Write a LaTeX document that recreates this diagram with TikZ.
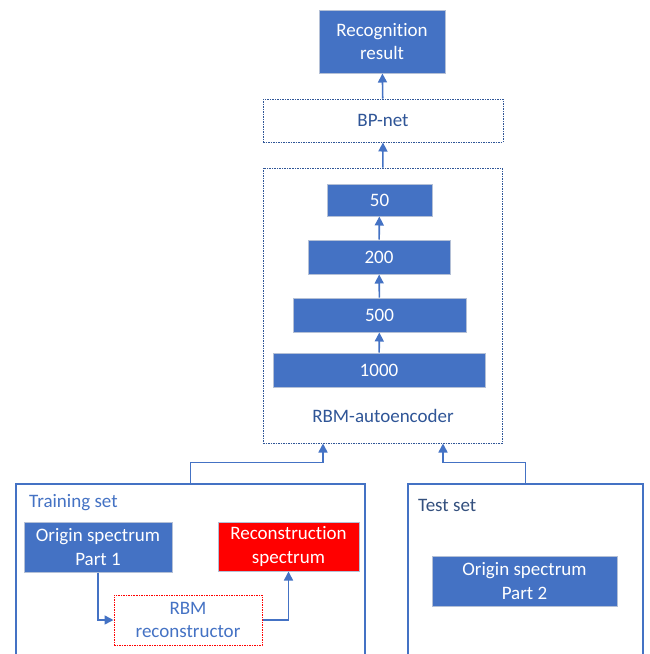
\documentclass[tikz,border=0pt]{standalone}
\usepackage{fontspec}
\setmainfont{Carlito}[Ligatures=NoCommon]
\usetikzlibrary{positioning, arrows.meta}

\definecolor{accblue}{HTML}{4472C4}
\definecolor{darkblue}{HTML}{2F5597}
\definecolor{boxedge}{HTML}{B4C0D6}
\definecolor{slateblue}{HTML}{34507E}

\tikzset{
  layer/.style={draw=boxedge, fill=accblue, text=white, line width=1pt,
    inner sep=0pt, align=center},
  redlayer/.style={layer, fill=red},
  frame/.style={draw=darkblue, dash pattern=on 1.5pt off 1pt, line width=1pt,
    inner sep=0pt, align=center, text=darkblue},
  redframe/.style={frame, draw=red, text=accblue},
  setbox/.style={draw=accblue, line width=1.3pt, inner sep=0pt},
  arr/.style={draw=accblue, line width=1.6pt, -{Triangle[length=9pt,width=9pt]}},
}

\begin{document}
\begin{tikzpicture}[x=1pt, y=-1pt, font=\fontsize{19}{23.5}\selectfont]

  \clip (0,0) rectangle (649,654);
  \fill[white] (0,0) rectangle (649,654);

  % output side
  \node[layer, minimum width=126pt, minimum height=63pt] (result) at (382,41.5)
    {Recognition\\result};
  \node[frame, minimum width=240pt, minimum height=43pt] (bpnet) at (383,120.5) {BP-net};

  % autoencoder stack
  \node[frame, minimum width=239pt, minimum height=275pt] (enc) at (382.5,305.5) {};
  \node[layer, minimum width=105pt, minimum height=32pt] (l50) at (379.5,200) {50};
  \node[layer, minimum width=142pt, minimum height=34pt] (l200) at (379,257) {200};
  \node[layer, minimum width=173pt, minimum height=34pt] (l500) at (379.5,315) {500};
  \node[layer, minimum width=212pt, minimum height=34pt] (l1000) at (379,370) {1000};
  \node[text=darkblue] (enclbl) at (383,416) {RBM-autoencoder};

  % training and test sets
  \node[setbox, minimum width=349pt, minimum height=196pt] (train) at (190.5,582) {};
  \node[setbox, minimum width=235pt, minimum height=196pt] (test) at (525.5,582) {};
  \node[text=accblue, anchor=west, inner sep=0pt] (trainlbl) at (29,503) {Training set};
  \node[text=slateblue, anchor=west, inner sep=0pt] (testlbl) at (418,505) {Test set};

  \node[layer, minimum width=148pt, minimum height=50pt] (orig1) at (98,547)
    {Origin spectrum\\Part 1};
  \node[redlayer, minimum width=141pt, minimum height=49pt] (recon) at (288.5,546.5)
    {Reconstruction\\spectrum};
  \node[redframe, minimum width=148pt, minimum height=50pt] (rbm) at (188,620)
    {RBM\\reconstructor};
  \node[layer, minimum width=185pt, minimum height=50pt] (orig2) at (524.5,581)
    {Origin spectrum\\Part 2};

  % connectors
  \draw[arr] (bpnet) -- (result);
  \draw[arr] (enc) -- (bpnet);
  \draw[arr] (l1000) -- (l500);
  \draw[arr] (l500) -- (l200);
  \draw[arr] (l200) -- (l50);
  \draw[arr] (train.north) -- ++(0,-21) -| ([xshift=-59.5pt]enc.south);
  \draw[arr] (test.north) -- ++(0,-21) -| ([xshift=60.5pt]enc.south);
  \draw[arr] (orig1.south) |- (rbm.west);
  \draw[arr] (rbm.east) -| (recon.south);

\end{tikzpicture}
\end{document}
